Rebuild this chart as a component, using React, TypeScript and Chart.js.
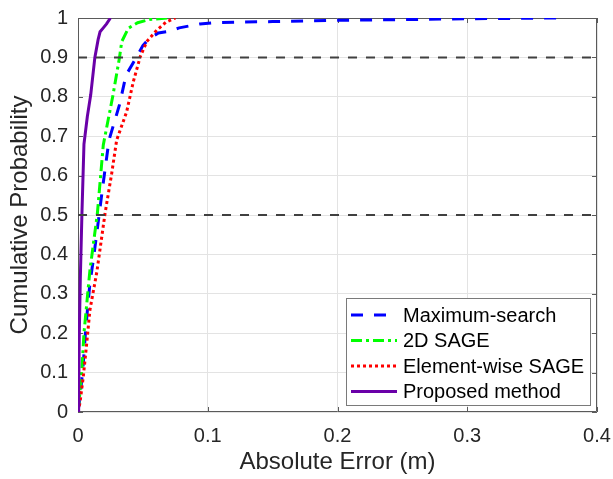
import React, { useEffect, useRef } from "react";
import { Chart, registerables } from "chart.js";

Chart.register(...registerables);

// Absolute error (m) and cumulative probability for each method
const maxSearchErr = [0, 0.002, 0.004, 0.0059, 0.0075, 0.0092, 0.0118, 0.0164, 0.0187, 0.0239, 0.032, 0.037, 0.045, 0.05, 0.055, 0.062, 0.07, 0.078, 0.094, 0.104, 0.15, 0.2, 0.25, 0.3, 0.37];
const maxSearchProb = [0, 0.05, 0.12, 0.208, 0.267, 0.327, 0.386, 0.503, 0.563, 0.69, 0.78, 0.855, 0.9, 0.93, 0.948, 0.962, 0.966, 0.975, 0.985, 0.988, 0.991, 0.994, 0.996, 0.998, 1.0];

const sage2dErr = [0, 0.0015, 0.003, 0.0046, 0.0092, 0.0149, 0.0195, 0.027, 0.032, 0.0337, 0.0388, 0.046, 0.055, 0.069];
const sage2dProb = [0, 0.05, 0.107, 0.2, 0.36, 0.503, 0.678, 0.805, 0.9, 0.94, 0.974, 0.988, 0.996, 1.0];

const elemSageErr = [0, 0.0015, 0.0041, 0.0067, 0.0092, 0.0145, 0.0208, 0.026, 0.0298, 0.0375, 0.0426, 0.048, 0.053, 0.061, 0.068, 0.075];
const elemSageProb = [0, 0.023, 0.09, 0.174, 0.259, 0.355, 0.503, 0.606, 0.69, 0.762, 0.838, 0.902, 0.94, 0.97, 0.99, 1.0];

const proposedErr = [0, 0.0005, 0.001, 0.0018, 0.003, 0.0046, 0.0072, 0.0098, 0.013, 0.0155, 0.017, 0.0195, 0.022, 0.025];
const proposedProb = [0, 0.05, 0.2, 0.34, 0.5, 0.68, 0.75, 0.805, 0.9, 0.945, 0.965, 0.975, 0.985, 1.0];

// Horizontal reference levels
const refLevels = [0.9, 0.5];

const xTicks = [0, 0.1, 0.2, 0.3, 0.4];
const yTicks = [0, 0.1, 0.2, 0.3, 0.4, 0.5, 0.6, 0.7, 0.8, 0.9, 1];

const seriesNames = ["Maximum-search", "2D SAGE", "Element-wise SAGE", "Proposed method"];

const FONT = "'Liberation Sans', Arial, Helvetica, sans-serif";
const TEXT = "#262626";

const toPoints = (xs: number[], ys: number[]) => xs.map((x, i) => ({ x, y: ys[i] }));

const fmt = (v: number | string) => String(Number(Number(v).toFixed(2)));

// Axes box with inward tick marks on all four sides
const framePlugin = {
  id: "frame",
  beforeDatasetsDraw(chart: any) {
    const { ctx, chartArea: a, scales } = chart;
    ctx.save();
    ctx.strokeStyle = "#5a5a5a";
    ctx.lineWidth = 1;
    ctx.beginPath();
    ctx.rect(a.left + 0.5, a.top + 0.5, a.right - a.left - 1, a.bottom - a.top - 1);
    ctx.stroke();
    const len = 5;
    ctx.beginPath();
    for (const v of xTicks) {
      const px = Math.round(scales.x.getPixelForValue(v)) + 0.5;
      ctx.moveTo(px, a.bottom);
      ctx.lineTo(px, a.bottom - len);
      ctx.moveTo(px, a.top);
      ctx.lineTo(px, a.top + len);
    }
    for (const v of yTicks) {
      const py = Math.round(scales.y.getPixelForValue(v)) + 0.5;
      ctx.moveTo(a.left, py);
      ctx.lineTo(a.left + len, py);
      ctx.moveTo(a.right, py);
      ctx.lineTo(a.right - len, py);
    }
    ctx.stroke();
    ctx.restore();
  },
};

// Legend box in the lower right corner of the plot area
const legendPlugin = {
  id: "cornerLegend",
  afterDatasetsDraw(chart: any) {
    const { ctx, chartArea: a } = chart;
    const w = 245;
    const h = 108;
    const right = a.right - 6;
    const bottom = a.bottom - 6;
    const left = right - w;
    const top = bottom - h;
    ctx.save();
    ctx.fillStyle = "#ffffff";
    ctx.fillRect(left, top, w, h);
    ctx.strokeStyle = "#7a7a7a";
    ctx.lineWidth = 1;
    ctx.strokeRect(left + 0.5, top + 0.5, w - 1, h - 1);
    ctx.font = `20px ${FONT}`;
    ctx.textBaseline = "middle";
    ctx.textAlign = "left";
    const rowGap = 25.5;
    const firstRow = top + 17;
    seriesNames.forEach((name, i) => {
      const ds = chart.data.datasets[i];
      const y = firstRow + i * rowGap;
      ctx.strokeStyle = ds.borderColor;
      ctx.lineWidth = ds.borderWidth;
      ctx.setLineDash(ds.borderDash || []);
      ctx.beginPath();
      ctx.moveTo(left + 5, y);
      ctx.lineTo(left + 51, y);
      ctx.stroke();
      ctx.setLineDash([]);
      ctx.fillStyle = "#000000";
      ctx.fillText(name, left + 57, y + 1);
    });
    ctx.restore();
  },
};

export default function App() {
  const canvasRef = useRef<HTMLCanvasElement | null>(null);

  useEffect(() => {
    if (!canvasRef.current) return;
    Chart.defaults.font.family = FONT;
    const curves = [
      { label: seriesNames[0], data: toPoints(maxSearchErr, maxSearchProb), borderColor: "#0000ff", borderWidth: 3, borderDash: [12, 11] },
      { label: seriesNames[1], data: toPoints(sage2dErr, sage2dProb), borderColor: "#00ff00", borderWidth: 3, borderDash: [11, 4, 3, 4] },
      { label: seriesNames[2], data: toPoints(elemSageErr, elemSageProb), borderColor: "#ff0000", borderWidth: 3, borderDash: [3, 3] },
      { label: seriesNames[3], data: toPoints(proposedErr, proposedProb), borderColor: "#6a00a8", borderWidth: 3, borderDash: [] as number[] },
    ];
    const refs = refLevels.map((lv) => ({
      label: `ref ${lv}`,
      data: [
        { x: xTicks[0], y: lv },
        { x: xTicks[xTicks.length - 1], y: lv },
      ],
      borderColor: "#404040",
      borderWidth: 2,
      borderDash: [9, 9],
    }));
    const zeroPad = (s: any) => {
      s.paddingLeft = 0;
      s.paddingRight = 0;
      s.paddingTop = 0;
      s.paddingBottom = 0;
    };
    const chart = new Chart(canvasRef.current, {
      type: "line",
      data: {
        datasets: [...curves, ...refs].map((d, i) => ({
          ...d,
          fill: false,
          pointRadius: 0,
          tension: 0,
          order: i < curves.length ? curves.length - i : 0,
        })),
      },
      options: {
        animation: false,
        responsive: false,
        events: [],
        layout: { padding: { top: 18, right: 16, left: 0, bottom: 0 } },
        plugins: {
          legend: { display: false },
          tooltip: { enabled: false },
        },
        scales: {
          x: {
            type: "linear",
            min: 0,
            max: 0.4,
            afterFit: (s: any) => {
              s.height = 67;
              zeroPad(s);
            },
            afterBuildTicks: (s: any) => {
              s.ticks = xTicks.map((v) => ({ value: v }));
            },
            grid: { color: "#e3e3e3", drawTicks: false },
            border: { display: false },
            ticks: {
              padding: 12,
              color: TEXT,
              font: { size: 20 },
              maxRotation: 0,
              callback: (v: any) => fmt(v),
            },
            title: {
              display: true,
              text: "Absolute Error (m)",
              color: TEXT,
              font: { size: 24 },
              padding: { top: 0, bottom: 2 },
            },
          },
          y: {
            type: "linear",
            min: 0,
            max: 1,
            afterFit: (s: any) => {
              s.width = 78;
              zeroPad(s);
            },
            afterBuildTicks: (s: any) => {
              s.ticks = yTicks.map((v) => ({ value: v }));
            },
            grid: { color: "#e3e3e3", drawTicks: false },
            border: { display: false },
            ticks: {
              padding: 10,
              color: TEXT,
              font: { size: 20 },
              callback: (v: any) => fmt(v),
            },
            title: {
              display: true,
              text: "Cumulative Probability",
              color: TEXT,
              font: { size: 24 },
              padding: { top: 6, bottom: 0 },
            },
          },
        },
      },
      plugins: [framePlugin, legendPlugin],
    });
    return () => chart.destroy();
  }, []);

  return (
    <div style={{ position: "fixed", left: 0, top: 0, width: 613, height: 479, background: "#ffffff" }}>
      <canvas ref={canvasRef} width={613} height={479} />
    </div>
  );
}
